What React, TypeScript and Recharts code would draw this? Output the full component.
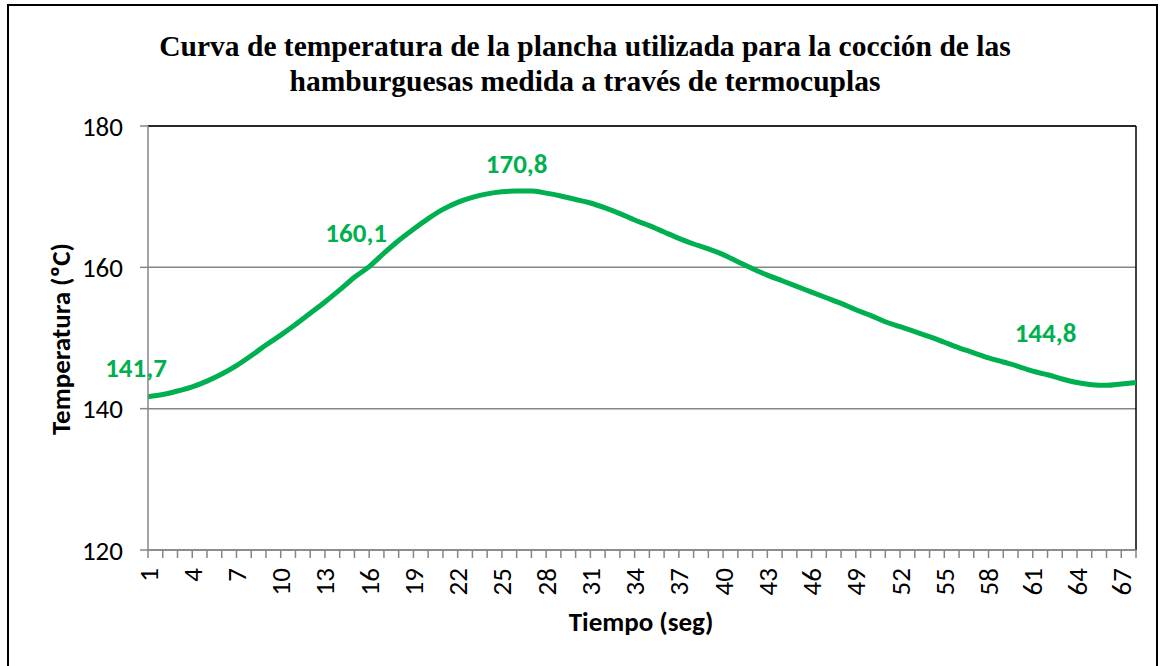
import React from 'react';
import { LineChart, Line, XAxis, YAxis, CartesianGrid, LabelList, ReferenceLine, Customized } from 'recharts';

const categories = [
  1, 2, 3, 4, 5, 6, 7, 8, 9, 10, 11, 12, 13, 14, 15, 16, 17, 18, 19, 20,
  21, 22, 23, 24, 25, 26, 27, 28, 29, 30, 31, 32, 33, 34, 35, 36, 37, 38, 39, 40,
  41, 42, 43, 44, 45, 46, 47, 48, 49, 50, 51, 52, 53, 54, 55, 56, 57, 58, 59, 60,
  61, 62, 63, 64, 65, 66, 67, 68,
];

const temperatures = [
  141.7, 142.0, 142.5, 143.1, 143.9, 144.9, 146.1, 147.5, 149.0, 150.4,
  151.9, 153.5, 155.1, 156.8, 158.6, 160.1, 162.0, 163.8, 165.4, 166.9,
  168.2, 169.2, 169.9, 170.4, 170.7, 170.8, 170.8, 170.5, 170.1, 169.6,
  169.1, 168.4, 167.6, 166.7, 165.9, 165.0, 164.1, 163.3, 162.6, 161.8,
  160.8, 159.8, 158.9, 158.1, 157.3, 156.5, 155.7, 154.9, 154.0, 153.2,
  152.3, 151.6, 150.9, 150.2, 149.4, 148.6, 147.9, 147.2, 146.6, 146.0,
  145.3, 144.8, 144.2, 143.7, 143.4, 143.3, 143.5, 143.7,
];

const yTicks = [120, 140, 160, 180];
const labelledIndices = [0, 15, 25, 61];

const titleLines = [
  'Curva de temperatura de la plancha utilizada para la cocción de las',
  'hamburguesas medida a través de termocuplas',
];
const xTitle = 'Tiempo (seg)';
const yTitle = 'Temperatura (ºC)';

const data = categories.map((c, i) => ({ t: c, temp: temperatures[i] }));

const GREEN = '#00B050';
const AXIS_GRAY = '#868686';
const SANS = "Carlito, 'Open Sans', sans-serif";
const SERIF = "'Liberation Serif', 'Times New Roman', serif";

const labelOffsets: Record<number, [number, number]> = {
  0: [-12, -29],
  15: [-13, -34],
  25: [0, -28],
  61: [-2, -42],
};

const XTick = (props: any) => {
  const { x, y, payload } = props;
  if ((payload.value - 1) % 3 !== 0) return <g />;
  return (
    <text
      x={x}
      y={y}
      transform={`rotate(-90 ${x} ${y})`}
      textAnchor="end"
      dominantBaseline="central"
      fontFamily={SANS}
      fontSize={27}
      fill="#000"
    >
      {payload.value}
    </text>
  );
};

const YTick = (props: any) => {
  const { x, y, payload } = props;
  return (
    <text x={x} y={y} textAnchor="end" dominantBaseline="central" fontFamily={SANS} fontSize={27} fill="#000">
      {payload.value}
    </text>
  );
};

const DataLabel = (props: any) => {
  const { x, y, value, index } = props;
  if (!labelledIndices.includes(index)) return <g />;
  const [dx, dy] = labelOffsets[index] || [0, -30];
  return (
    <text
      x={x + dx}
      y={y + dy}
      textAnchor="middle"
      dominantBaseline="central"
      fontFamily={SANS}
      fontWeight="bold"
      fontSize={27}
      fill={GREEN}
    >
      {String(value).replace('.', ',')}
    </text>
  );
};

const Titles = () => (
  <g>
    <text x={585} y={56} textAnchor="middle" fontFamily={SERIF} fontWeight="bold" fontSize={29.5} fill="#000">
      {titleLines[0]}
    </text>
    <text x={585} y={91} textAnchor="middle" fontFamily={SERIF} fontWeight="bold" fontSize={29.5} fill="#000">
      {titleLines[1]}
    </text>
    <text x={641} y={621} textAnchor="middle" dominantBaseline="central" fontFamily={SANS} fontWeight="bold" fontSize={27} fill="#000">
      {xTitle}
    </text>
    <text
      x={60}
      y={339}
      transform="rotate(-90 60 339)"
      textAnchor="middle"
      dominantBaseline="central"
      fontFamily={SANS}
      fontWeight="bold"
      fontSize={27}
      fill="#000"
    >
      {yTitle}
    </text>
  </g>
);

export default function App() {
  return (
    <div style={{ position: 'absolute', left: 0, top: 0, width: 1162, height: 666, overflow: 'hidden', background: '#fff' }}>
      <div
        style={{
          position: 'absolute',
          left: 7,
          top: 4,
          width: 1151,
          height: 720,
          border: '2px solid #000',
          boxSizing: 'border-box',
        }}
      />
      <div style={{ position: 'absolute', left: 0, top: 0 }}>
        <LineChart width={1162} height={666} data={data} margin={{ top: 126, right: 26, bottom: 56, left: 88 }}>
          <CartesianGrid vertical={false} stroke={AXIS_GRAY} strokeWidth={1.5} />
          <XAxis
            dataKey="t"
            interval={0}
            height={60}
            tickSize={8}
            tickMargin={10}
            tick={<XTick />}
            tickLine={{ stroke: AXIS_GRAY, strokeWidth: 1.5 }}
            axisLine={{ stroke: AXIS_GRAY, strokeWidth: 1.5 }}
          />
          <YAxis
            domain={[120, 180]}
            ticks={yTicks}
            width={60}
            tickSize={8}
            tickMargin={17}
            tick={<YTick />}
            tickLine={{ stroke: AXIS_GRAY, strokeWidth: 1.5 }}
            axisLine={{ stroke: AXIS_GRAY, strokeWidth: 1.5 }}
          />
          <ReferenceLine y={180} stroke="#000" strokeWidth={1.5} />
          <ReferenceLine x={68} stroke="#000" strokeWidth={1.5} />
          <Line
            type="monotone"
            dataKey="temp"
            stroke={GREEN}
            strokeWidth={5}
            dot={false}
            isAnimationActive={false}
          >
            <LabelList dataKey="temp" content={<DataLabel />} />
          </Line>
          <Customized component={Titles} />
        </LineChart>
      </div>
    </div>
  );
}
